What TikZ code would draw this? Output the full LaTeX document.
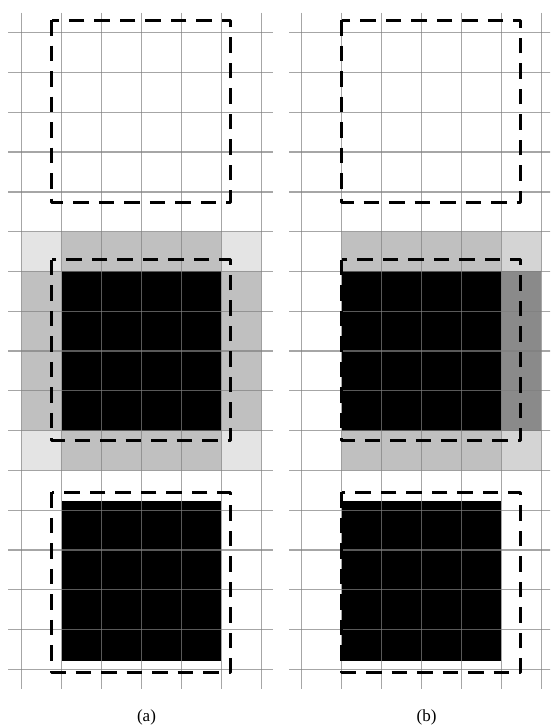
\documentclass[tikz,border=0pt]{standalone}
\usepackage{fontspec}
\setmainfont{Liberation Serif}
\definecolor{lightg}{RGB}{228,228,228}
\definecolor{midg}{RGB}{192,192,192}
\definecolor{cornerg}{RGB}{212,212,212}
\definecolor{darkg}{RGB}{138,138,138}
\definecolor{gridg}{RGB}{128,128,128}
\tikzset{
  gridline/.style={draw=gridg, draw opacity=0.7, line width=1.3pt},
  window/.style={draw=black, line width=3pt, dash pattern=on 15.5pt off 10pt, line join=round},
  panel/.style={x=39.93pt, y=-39.79pt},
  caption/.style={font=\fontsize{17}{20}\selectfont, anchor=base, inner sep=0pt}
}
\begin{document}
\begin{tikzpicture}[x=1pt,y=-1pt]
\useasboundingbox (0,0) rectangle (550,727);
\clip (0,0) rectangle (550,727);
% ---------- panel (a)
\begin{scope}[shift={(21.7pt,-32.7pt)}, panel]
  \fill[lightg] (0,5) rectangle (1,6) (5,5) rectangle (6,6) (0,10) rectangle (1,11) (5,10) rectangle (6,11);
  \fill[midg] (1,5) rectangle (5,6) (1,10) rectangle (5,11) (0,6) rectangle (1,10) (5,6) rectangle (6,10);
  \fill[black] (1,6) rectangle (5,10);
  \fill[black] (1,11.78) rectangle (5,15.78);
  \foreach \i in {0,...,6} \draw[gridline] (\i,-0.503) -- (\i,16.5);
  \foreach \j in {0,...,16} \draw[gridline] (-0.336,\j) -- (6.3,\j);
  \draw[window] (0.751,-0.319) rectangle (5.217,4.262);
  \draw[window] (0.751,5.712) rectangle (5.217,10.261);
  \draw[window] (0.751,11.551) rectangle (5.217,16.074);
\end{scope}
% ---------- panel (b)
\begin{scope}[shift={(301.7pt,-32.7pt)}, panel]
  \fill[midg] (1,5) rectangle (5,6) (1,10) rectangle (5,11);
  \fill[cornerg] (5,5) rectangle (6,6) (5,10) rectangle (6,11);
  \fill[darkg] (5,6) rectangle (6,10);
  \fill[black] (1,6) rectangle (5,10);
  \fill[black] (1,11.78) rectangle (5,15.78);
  \foreach \i in {0,...,6} \draw[gridline] (\i,-0.503) -- (\i,16.5);
  \foreach \j in {0,...,16} \draw[gridline] (-0.31,\j) -- (6.4,\j);
  \draw[window] (1.009,-0.319) rectangle (5.485,4.262);
  \draw[window] (1.009,5.712) rectangle (5.485,10.261);
  \draw[window] (1.009,11.551) rectangle (5.485,16.074);
\end{scope}
\node[caption] (capa) at (146.5,721.5) {(a)};
\node[caption] (capb) at (426.5,721.5) {(b)};
\end{tikzpicture}
\end{document}
